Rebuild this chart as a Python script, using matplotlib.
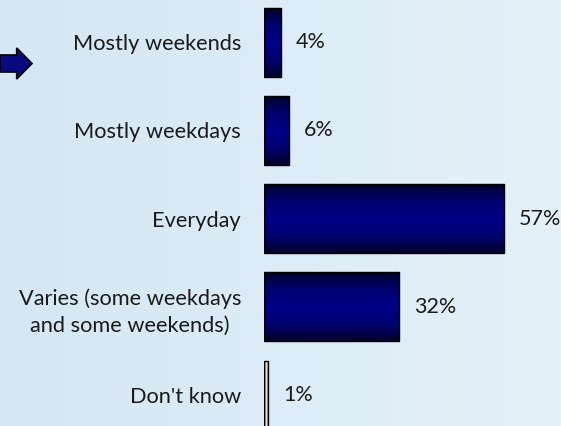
import numpy as np
import matplotlib
matplotlib.use("Agg")
import matplotlib.pyplot as plt
from matplotlib.colors import LinearSegmentedColormap
from matplotlib.patches import Polygon

# chart data
categories = ["Mostly weekends", "Mostly weekdays", "Everyday",
              "Varies (some weekdays\nand some weekends)", "Don't know"]
values = [4, 6, 57, 32, 1]
value_labels = ["4%", "6%", "57%", "32%", "1%"]

plt.rcParams['font.family'] = ['Lato', 'DejaVu Sans']

W, H = 561, 426
fig = plt.figure(figsize=(W / 100, H / 100), dpi=100)

# light blue background gradient
bg = fig.add_axes([0, 0, 1, 1], zorder=0)
bg_cmap = LinearSegmentedColormap.from_list("bg", ["#d5e7f3", "#e5f1f9"])
bg.imshow(np.linspace(0, 1, 256).reshape(1, -1), cmap=bg_cmap, aspect="auto",
          extent=[0, 1, 0, 1])
bg.set_axis_off()

# arrow on the left (pixel coords, y from top)
arrow_px = [(0, 55), (16.7, 55), (16.7, 48), (32, 63.5), (16.7, 79), (16.7, 72), (0, 72)]
arrow = Polygon([(x / W, 1 - y / H) for x, y in arrow_px], closed=True,
                transform=fig.transFigure, facecolor="#0a0a80", edgecolor="black",
                linewidth=1.2, zorder=2)
fig.patches.append(arrow)

# bar axes
left = 264 / W
ax = fig.add_axes([left, 0, 1 - left, 1], zorder=1)
ax.patch.set_alpha(0)
px_per_pct = 4.21
step = 88.2
first = 42.3

y = np.arange(len(categories))
bars = ax.barh(y, values, height=69 / step, color="none", edgecolor="black",
               linewidth=1.0, zorder=3)

blue_cmap = LinearSegmentedColormap.from_list(
    "bluebar", ["#00002a", "#000070", "#000088", "#000070", "#00002a"])
grey_cmap = LinearSegmentedColormap.from_list(
    "greybar", ["#202020", "#909090", "#ffffff", "#909090", "#202020"])
grad = np.linspace(0, 1, 256)
for i, b in enumerate(bars):
    x0, y0 = b.get_x(), b.get_y()
    w, h = b.get_width(), b.get_height()
    if categories[i] == "Don't know":
        img = ax.imshow(grad.reshape(1, -1), cmap=grey_cmap, aspect="auto",
                        extent=[x0, x0 + w, y0 + h, y0], zorder=2)
    else:
        img = ax.imshow(grad.reshape(-1, 1), cmap=blue_cmap, aspect="auto",
                        extent=[x0, x0 + w, y0 + h, y0], zorder=2)
    img.set_clip_path(b)
    ax.text(values[i] + 15 / px_per_pct, y[i], value_labels[i], va="center", ha="left",
            fontsize=15.5, color="#1a1a1a")

ax.set_xlim(0, (W - 264) / px_per_pct)
ax.set_ylim((H - first) / step, -first / step)
ax.set_yticks(y)
ax.set_yticklabels(categories, fontsize=15.7, color="#1a1a1a")
for lbl in ax.get_yticklabels():
    lbl.set_multialignment("center")
    lbl.set_linespacing(1.4)
ax.tick_params(axis="y", length=0, pad=16.5)
ax.set_xticks([])
for s in ax.spines.values():
    s.set_visible(False)

fig.savefig("out.png", dpi=100)
